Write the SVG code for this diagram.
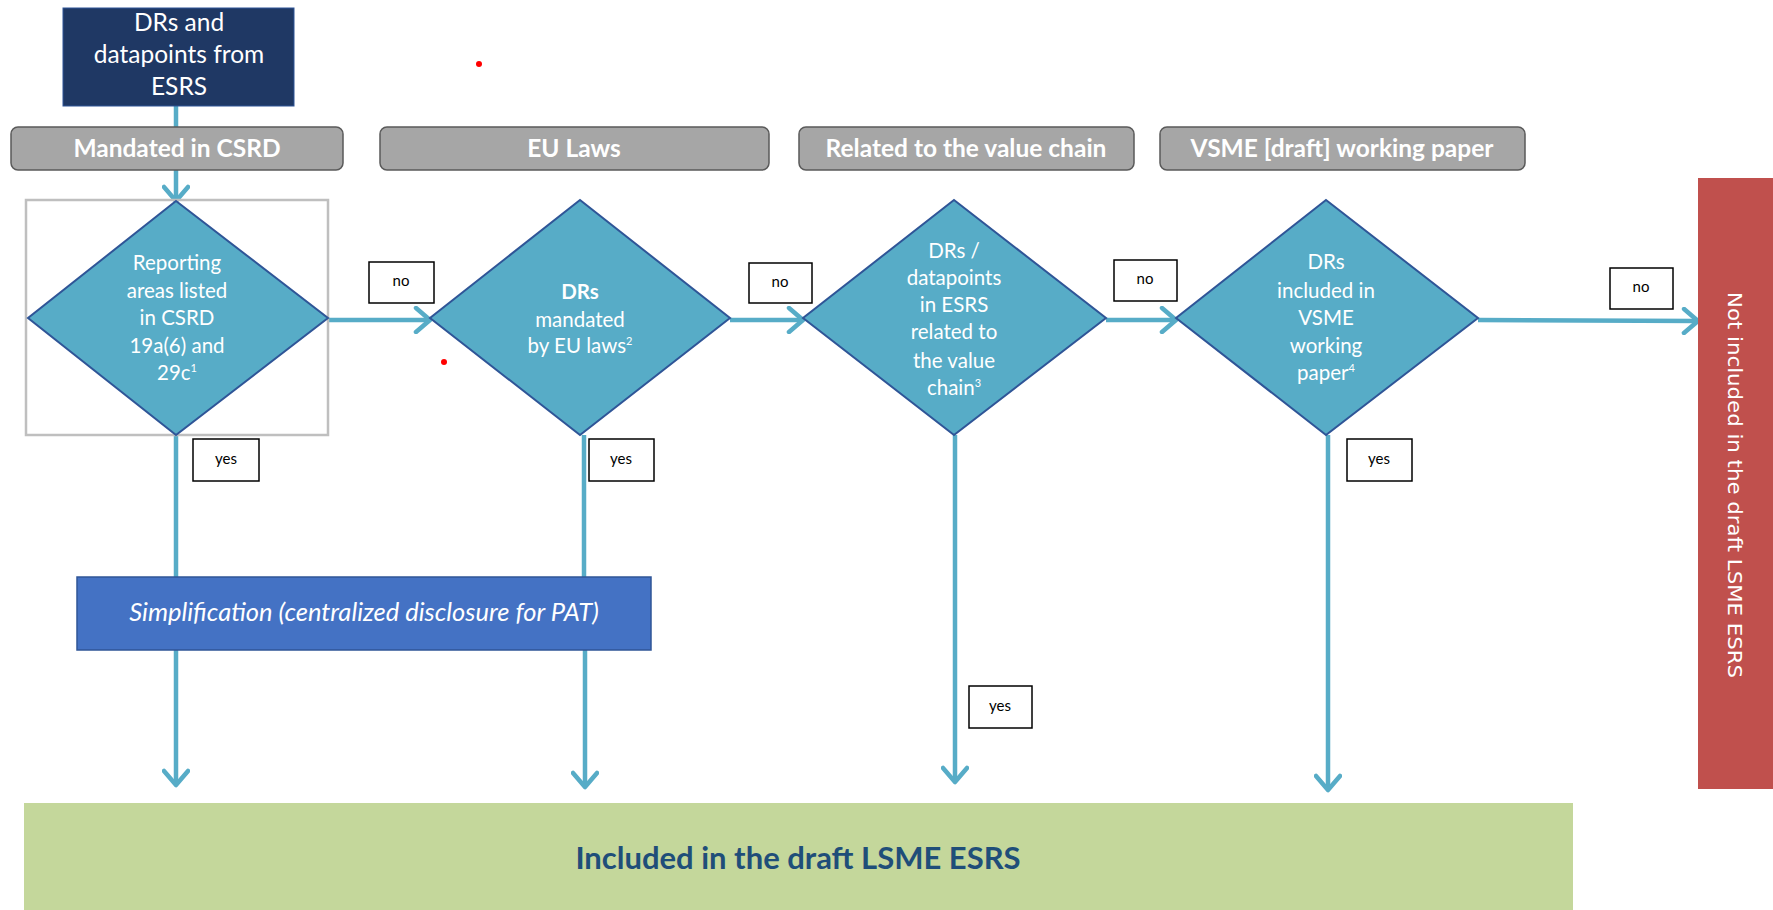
<svg xmlns="http://www.w3.org/2000/svg" width="1773" height="910" viewBox="0 0 1773 910">
<defs>
<style>
.hdr{fill:#a6a6a6;stroke:#5a5a5a;stroke-width:1.5}
.hdrt{font-family:Lato,"Liberation Sans",sans-serif;font-weight:bold;font-size:24.5px;fill:#ffffff;text-anchor:middle}
.dia{fill:#57acc7;stroke:#2f5597;stroke-width:2}
.dt{font-family:Lato,"Liberation Sans",sans-serif;font-size:20.5px;fill:#ffffff;text-anchor:middle}
.lbl{fill:#ffffff;stroke:#000000;stroke-width:1.5}
.lt{font-family:Lato,"Liberation Sans",sans-serif;font-size:15px;fill:#000000;text-anchor:middle}
.con{stroke:#57acc7;stroke-width:4.5;fill:none}
.sup{font-size:11px}
</style>
<marker id="arr" markerWidth="20" markerHeight="28" refX="17" refY="14" orient="auto" markerUnits="userSpaceOnUse">
<path d="M3,2 L17,14 L3,26" fill="none" stroke="#57acc7" stroke-width="4.5" stroke-linecap="round" stroke-linejoin="round"/>
</marker>
</defs>
<rect width="1773" height="910" fill="#ffffff"/>

<g id="connectors">
<line class="con" x1="176" y1="106" x2="176" y2="130"/>
<line class="con" x1="176" y1="168" x2="176" y2="201" marker-end="url(#arr)"/>
<line class="con" x1="328" y1="320" x2="430" y2="320" marker-end="url(#arr)"/>
<line class="con" x1="730" y1="320" x2="803" y2="320" marker-end="url(#arr)"/>
<line class="con" x1="1106" y1="320" x2="1176" y2="320" marker-end="url(#arr)"/>
<line class="con" x1="1478" y1="320" x2="1698" y2="321" marker-end="url(#arr)"/>
<line class="con" x1="176" y1="435" x2="176" y2="577"/>
<line class="con" x1="176" y1="650" x2="176" y2="785" marker-end="url(#arr)"/>
<line class="con" x1="584" y1="435" x2="584" y2="577"/>
<line class="con" x1="585" y1="650" x2="585" y2="787" marker-end="url(#arr)"/>
<line class="con" x1="955" y1="435" x2="955" y2="782" marker-end="url(#arr)"/>
<line class="con" x1="1328" y1="435" x2="1328" y2="790" marker-end="url(#arr)"/>
</g>

<g id="src">
<rect x="63" y="8" width="231" height="98" fill="#1f3864" stroke="#2f5597" stroke-width="1"/>
<text class="dt" x="179" y="31" style="font-size:24.5px">DRs and</text>
<text class="dt" x="179" y="63" style="font-size:24.5px">datapoints from</text>
<text class="dt" x="179" y="95" style="font-size:24.5px">ESRS</text>
</g>

<g id="hdr1"><rect class="hdr" x="11" y="127" width="332" height="43" rx="7"/><text class="hdrt" x="177" y="157">Mandated in CSRD</text></g>
<g id="hdr2"><rect class="hdr" x="380" y="127" width="389" height="43" rx="7"/><text class="hdrt" x="574" y="157">EU Laws</text></g>
<g id="hdr3"><rect class="hdr" x="799" y="127" width="335" height="43" rx="7"/><text class="hdrt" x="966" y="157">Related to the value chain</text></g>
<g id="hdr4"><rect class="hdr" x="1160" y="127" width="365" height="43" rx="7"/><text class="hdrt" x="1342" y="157">VSME [draft] working paper</text></g>

<g id="d1">
<rect x="26" y="200" width="302" height="235" fill="none" stroke="#bfbfbf" stroke-width="2.5"/>
<polygon class="dia" points="176,201 328,318 176,435 28,318"/>
<text class="dt" x="177" y="270">Reporting</text>
<text class="dt" x="177" y="298">areas listed</text>
<text class="dt" x="177" y="325">in CSRD</text>
<text class="dt" x="177" y="353">19a(6) and</text>
<text class="dt" x="177" y="380">29c<tspan class="sup" dy="-8">1</tspan></text>
</g>

<g id="d2">
<polygon class="dia" points="580,200 730,318 580,435 430,318"/>
<text class="dt" x="580" y="299" font-weight="bold">DRs</text>
<text class="dt" x="580" y="327">mandated</text>
<text class="dt" x="580" y="353">by EU laws<tspan class="sup" dy="-8">2</tspan></text>
</g>

<g id="d3">
<polygon class="dia" points="954,200 1106,318 954,435 803,318"/>
<text class="dt" x="954" y="258">DRs /</text>
<text class="dt" x="954" y="285">datapoints</text>
<text class="dt" x="954" y="312">in ESRS</text>
<text class="dt" x="954" y="339">related to</text>
<text class="dt" x="954" y="368">the value</text>
<text class="dt" x="954" y="395">chain<tspan class="sup" dy="-8">3</tspan></text>
</g>

<g id="d4">
<polygon class="dia" points="1326,200 1478,318 1326,435 1176,318"/>
<text class="dt" x="1326" y="269">DRs</text>
<text class="dt" x="1326" y="298">included in</text>
<text class="dt" x="1326" y="325">VSME</text>
<text class="dt" x="1326" y="353">working</text>
<text class="dt" x="1326" y="380">paper<tspan class="sup" dy="-8">4</tspan></text>
</g>

<g id="no1"><rect class="lbl" x="369" y="262" width="65" height="41"/><text class="lt" x="401" y="286">no</text></g>
<g id="no2"><rect class="lbl" x="749" y="263" width="63" height="40"/><text class="lt" x="780" y="287">no</text></g>
<g id="no3"><rect class="lbl" x="1114" y="260" width="63" height="41"/><text class="lt" x="1145" y="284">no</text></g>
<g id="no4"><rect class="lbl" x="1610" y="268" width="63" height="41"/><text class="lt" x="1641" y="292">no</text></g>
<g id="yes1"><rect class="lbl" x="193" y="439" width="66" height="42"/><text class="lt" x="226" y="464">yes</text></g>
<g id="yes2"><rect class="lbl" x="589" y="439" width="65" height="42"/><text class="lt" x="621" y="464">yes</text></g>
<g id="yes3"><rect class="lbl" x="969" y="686" width="63" height="42"/><text class="lt" x="1000" y="711">yes</text></g>
<g id="yes4"><rect class="lbl" x="1347" y="439" width="65" height="42"/><text class="lt" x="1379" y="464">yes</text></g>

<g id="simp">
<rect x="77" y="577" width="574" height="73" fill="#4472c4" stroke="#2f5597" stroke-width="1.5"/>
<text class="dt" x="364" y="621" style="font-size:25.5px;font-style:italic">Simplification (centralized disclosure for PAT)</text>
</g>

<g id="included">
<rect x="24" y="803" width="1549" height="107" fill="#c4d79b"/>
<text x="798" y="869" style="font-family:Lato,'Liberation Sans',sans-serif;font-weight:bold;font-size:31px;fill:#1f4e79;text-anchor:middle">Included in the draft LSME ESRS</text>
</g>

<g id="notincluded">
<rect x="1698" y="178" width="75" height="611" fill="#c0504d"/>
<text transform="translate(1728,485) rotate(90)" style="font-family:'DejaVu Sans',sans-serif;font-size:20px;fill:#ffffff;text-anchor:middle" textLength="386" lengthAdjust="spacingAndGlyphs">Not included in the draft LSME ESRS</text>
</g>

<circle cx="479" cy="64" r="3" fill="#ff0000"/>
<circle cx="444" cy="362" r="3" fill="#ff0000"/>
</svg>
